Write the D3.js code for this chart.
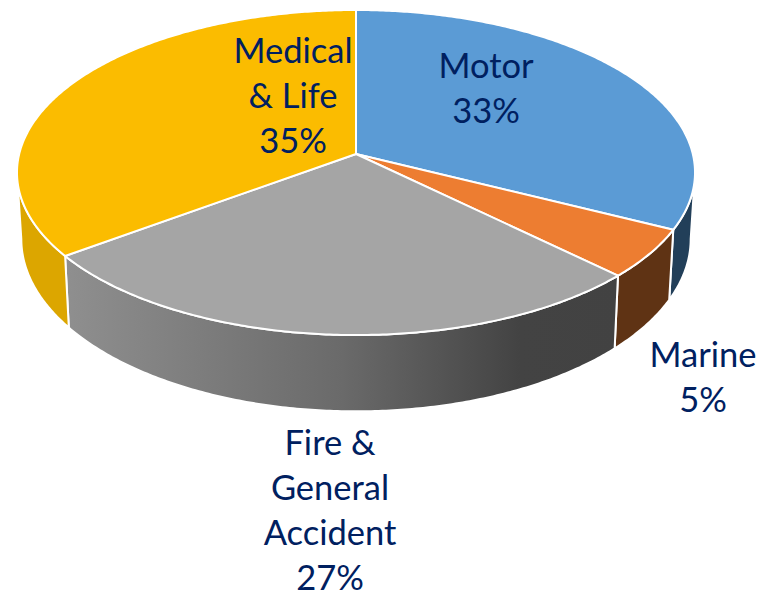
<!DOCTYPE html>
<html><head><meta charset="utf-8">
<script src="https://cdn.jsdelivr.net/npm/d3@7"></script>
<style>html,body{margin:0;background:#fff}svg{display:block}</style>
</head><body><svg id="c" width="763" height="594"></svg>
<script>
// Data
const categories = ["Motor","Marine","Fire & General Accident","Medical & Life"];
const sliceValues = [32.4,4.9,27.6,35.1];       // angular share as drawn
const labelLines = [["Motor"],["Marine"],["Fire &","General","Accident"],["Medical","& Life"]];
const percentLabels = ["33%","5%","27%","35%"];
const topColors = ["#5B9BD5","#ED7D31","#A5A5A5","#FBBC00"];
const wallColors = ["#223F59","#5F3314","url(#grayWall)","#DCA600"];

const W=763,H=594, svg=d3.select("#c");
const cx=356, k=0.114;
const topPlane={y0:154,a:160.4,b:336.8}, botPlane={y0:219.5,a:170,b:332.5};
const project=(p,t,r=1)=>{const u=r*Math.sin(t),v=-r*Math.cos(t),d=1-k*v;
  return [cx+p.b*u/d,p.y0+p.a*v/d];};
const arcs=d3.pie().sort(null).startAngle(0).endAngle(2*Math.PI)(sliceValues);
const samples=(a,b)=>{const n=Math.max(2,Math.ceil((b-a)/0.01));return d3.range(n+1).map(i=>a+(b-a)*i/n);};
const line=d3.line();

const defs=svg.append("defs");
const g=defs.append("linearGradient").attr("id","grayWall").attr("gradientUnits","userSpaceOnUse")
  .attr("x1",65).attr("x2",620).attr("y1",0).attr("y2",0);
g.append("stop").attr("offset",0).attr("stop-color","#8F8F8F");
g.append("stop").attr("offset",0.5).attr("stop-color","#6A6A6A");
g.append("stop").attr("offset",0.82).attr("stop-color","#434343");
g.append("stop").attr("offset",1).attr("stop-color","#424242");

// visible outer wall limited to the front of the disc
const front=[Math.acos(-k),2*Math.PI-Math.acos(-k)];
svg.append("g").selectAll("path").data(arcs.filter(d=>d.endAngle>front[0]&&d.startAngle<front[1])).join("path")
  .attr("d",d=>{const a=Math.max(d.startAngle,front[0]),b=Math.min(d.endAngle,front[1]);
    const ts=samples(a,b);
    return line(ts.map(t=>project(topPlane,t)).concat(ts.slice().reverse().map(t=>project(botPlane,t))))+"Z";})
  .attr("fill",d=>wallColors[d.index]).attr("stroke","#fff").attr("stroke-width",2).attr("stroke-linejoin","round");

// top surface
svg.append("g").selectAll("path").data(arcs).join("path")
  .attr("d",d=>line([project(topPlane,0,0)].concat(samples(d.startAngle,d.endAngle).map(t=>project(topPlane,t))))+"Z")
  .attr("fill",d=>topColors[d.index]).attr("stroke","#fff").attr("stroke-width",2).attr("stroke-linejoin","round");

// labels
const labelLayout=[{x:486,y:78,dy:45},{x:703,y:367,dy:45},{x:330,y:455,dy:45},{x:293,y:63,dy:45}];
const labels=svg.append("g").attr("font-family","Lato, 'Open Sans', sans-serif").attr("font-size",34.5)
  .attr("fill","#002060").attr("text-anchor","middle");
categories.forEach((c,i)=>{
  const L=labelLayout[i];
  labelLines[i].concat(percentLabels[i]).forEach((s,j)=>
    labels.append("text").attr("x",L.x).attr("y",L.y+j*L.dy).text(s));
});
</script></body></html>
